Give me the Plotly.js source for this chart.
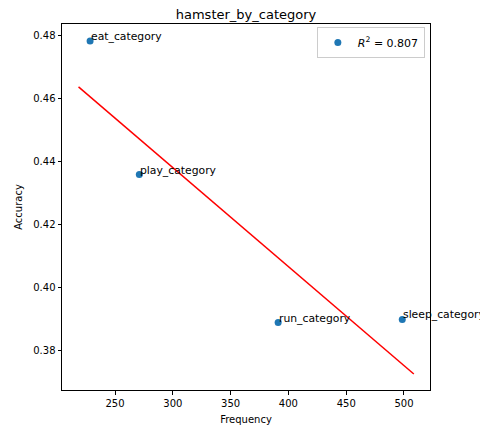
<!DOCTYPE html>
<html>
<head>
<meta charset="utf-8">
<script src="https://cdn.plot.ly/plotly-3.0.1.min.js"></script>
<style>
  html, body { margin: 0; padding: 0; background: #fff; overflow: hidden; }
  #chart { width: 480px; height: 430px; }
</style>
</head>
<body>
<div id="chart"></div>
<script>
// Per-category frequency vs. accuracy
const categories = ["eat_category", "play_category", "run_category", "sleep_category"];
const frequency = [228.4, 271.0, 391.1, 498.5];
const accuracy = [0.4781, 0.4357, 0.3887, 0.3897];
const rSquaredLabel = "<i>R</i><sup>2</sup> = 0.807";

// Least-squares fit, drawn a little past the outermost points
function linearFit(xs, ys) {
  const n = xs.length;
  const mx = xs.reduce((a, b) => a + b, 0) / n;
  const my = ys.reduce((a, b) => a + b, 0) / n;
  let sxy = 0, sxx = 0;
  for (let i = 0; i < n; i++) {
    sxy += (xs[i] - mx) * (ys[i] - my);
    sxx += (xs[i] - mx) * (xs[i] - mx);
  }
  const slope = sxy / sxx;
  return { slope: slope, intercept: my - slope * mx };
}
const fit = linearFit(frequency, accuracy);
const pad = 10;
const fitX = [Math.min(...frequency) - pad, Math.max(...frequency) + pad];
const fitY = fitX.map(x => fit.intercept + fit.slope * x);

const font = { family: "DejaVu Sans, sans-serif", size: 10, color: "#000" };

const traces = [
  {
    x: frequency, y: accuracy, type: "scatter", mode: "markers",
    marker: { color: "#1f77b4", size: 7 },
    name: rSquaredLabel, showlegend: true, cliponaxis: false
  },
  {
    x: fitX, y: fitY, type: "scatter", mode: "lines",
    line: { color: "#ff0000", width: 1.5 },
    showlegend: false, hoverinfo: "skip"
  }
];

const annotations = categories.map((c, i) => ({
  x: frequency[i], y: accuracy[i], xref: "x", yref: "y",
  text: c, showarrow: false, xanchor: "left", yanchor: "bottom",
  yshift: -4, xshift: -1, font: { family: font.family, size: 10.8, color: "#000" }
}));

const axisCommon = {
  showline: true, mirror: true, linecolor: "#000", linewidth: 1,
  ticks: "outside", ticklen: 3.5, tickwidth: 1, tickcolor: "#000",
  showgrid: false, zeroline: false, tickfont: font
};

const layout = {
  width: 480, height: 430,
  margin: { l: 62, r: 50, t: 24, b: 40 },
  paper_bgcolor: "#fff", plot_bgcolor: "#fff",
  font: font,
  title: { text: "hamster_by_category", font: { family: font.family, size: 13, color: "#000" },
           x: 0.5125, xanchor: "center", y: 0.967, yanchor: "middle" },
  xaxis: Object.assign({}, axisCommon, {
    range: [204.1, 522.5], tickvals: [250, 300, 350, 400, 450, 500],
    title: { text: "Frequency", font: font, standoff: 8 }
  }),
  yaxis: Object.assign({}, axisCommon, {
    range: [0.3673, 0.4835], tickvals: [0.38, 0.40, 0.42, 0.44, 0.46, 0.48],
    tickformat: ".2f",
    title: { text: "Accuracy", font: font, standoff: 8 }
  }),
  showlegend: true,
  legend: {
    x: 0.986, y: 0.992, xanchor: "right", yanchor: "top",
    bgcolor: "rgba(255,255,255,0.8)", bordercolor: "#cccccc", borderwidth: 1,
    font: { family: font.family, size: 11, color: "#000" }
  },
  annotations: annotations
};

Plotly.newPlot("chart", traces, layout, { displayModeBar: false, staticPlot: true });
</script>
</body>
</html>
